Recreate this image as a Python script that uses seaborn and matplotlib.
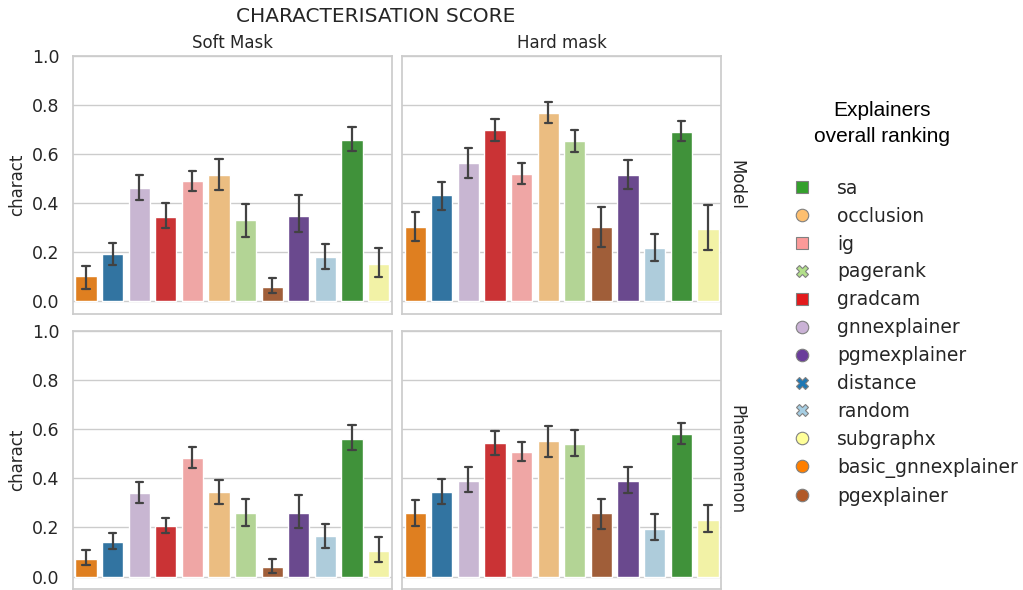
import numpy as np
import pandas as pd
import seaborn as sns
import matplotlib.pyplot as plt
from matplotlib.lines import Line2D

# explainers in plotting order (alphabetical)
explainers = ['basic_gnnexplainer', 'distance', 'gnnexplainer', 'gradcam', 'ig', 'occlusion',
              'pagerank', 'pgexplainer', 'pgmexplainer', 'random', 'sa', 'subgraphx']
# legend order = overall ranking
ranking = ['sa', 'occlusion', 'ig', 'pagerank', 'gradcam', 'gnnexplainer', 'pgmexplainer',
           'distance', 'random', 'subgraphx', 'basic_gnnexplainer', 'pgexplainer']
ranking_markers = ['s', 'o', 's', 'X', 's', 'o', 'o', 'X', 'X', 'o', 'o', 'o']
masks = ['Soft Mask', 'Hard mask']
focuses = ['Model', 'Phenomenon']

# bar value, lower and upper end of the error bar
soft_model = [0.102, 0.194, 0.463, 0.346, 0.490, 0.517, 0.330, 0.057, 0.349, 0.181, 0.657, 0.152]
soft_model_lo = [0.050, 0.147, 0.413, 0.300, 0.450, 0.454, 0.264, 0.033, 0.284, 0.132, 0.615, 0.100]
soft_model_hi = [0.143, 0.238, 0.517, 0.400, 0.530, 0.580, 0.395, 0.094, 0.435, 0.236, 0.710, 0.219]

hard_model = [0.305, 0.435, 0.564, 0.700, 0.519, 0.768, 0.653, 0.302, 0.514, 0.217, 0.690, 0.295]
hard_model_lo = [0.248, 0.373, 0.503, 0.653, 0.480, 0.729, 0.608, 0.221, 0.458, 0.164, 0.653, 0.209]
hard_model_hi = [0.366, 0.488, 0.626, 0.744, 0.566, 0.813, 0.698, 0.386, 0.575, 0.274, 0.734, 0.394]

soft_phen = [0.073, 0.141, 0.340, 0.205, 0.484, 0.343, 0.257, 0.038, 0.261, 0.165, 0.562, 0.103]
soft_phen_lo = [0.046, 0.113, 0.301, 0.177, 0.444, 0.297, 0.207, 0.015, 0.196, 0.118, 0.516, 0.060]
soft_phen_hi = [0.107, 0.176, 0.386, 0.239, 0.528, 0.393, 0.318, 0.072, 0.332, 0.216, 0.619, 0.161]

hard_phen = [0.257, 0.346, 0.390, 0.544, 0.507, 0.551, 0.541, 0.257, 0.390, 0.195, 0.580, 0.230]
hard_phen_lo = [0.207, 0.297, 0.344, 0.495, 0.471, 0.488, 0.493, 0.195, 0.341, 0.147, 0.540, 0.181]
hard_phen_hi = [0.314, 0.396, 0.445, 0.592, 0.548, 0.612, 0.596, 0.317, 0.446, 0.253, 0.626, 0.291]

panels = [
    ('Model', 'Soft Mask', soft_model, soft_model_lo, soft_model_hi),
    ('Model', 'Hard mask', hard_model, hard_model_lo, hard_model_hi),
    ('Phenomenon', 'Soft Mask', soft_phen, soft_phen_lo, soft_phen_hi),
    ('Phenomenon', 'Hard mask', hard_phen, hard_phen_lo, hard_phen_hi),
]

# long table: median of (lo, val, hi) is the bar, min/max is the error bar
rows = []
for focus, mask, vals, los, his in panels:
    for e, v, lo, hi in zip(explainers, vals, los, his):
        for x in (lo, v, hi):
            rows.append({'explainer': e, 'mask': mask, 'focus': focus, 'charact': x})
df = pd.DataFrame(rows)

paired = sns.color_palette('Paired')
colors = {'basic_gnnexplainer': paired[7], 'distance': paired[1], 'gnnexplainer': paired[8],
          'gradcam': paired[5], 'ig': paired[4], 'occlusion': paired[6], 'pagerank': paired[2],
          'pgexplainer': paired[11], 'pgmexplainer': paired[9], 'random': paired[0],
          'sa': paired[3], 'subgraphx': paired[10]}

sns.set_theme(style='whitegrid', rc={'ytick.labelsize': 12.5})

g = sns.catplot(data=df, x='explainer', y='charact', hue='explainer', row='focus', col='mask',
                kind='bar', order=explainers, hue_order=explainers, row_order=focuses,
                col_order=masks, palette=colors, estimator='median', errorbar=('pi', 100),
                capsize=0.27, err_kws={'linewidth': 1.6}, legend=False,
                margin_titles=True, facet_kws={'despine': False}, height=3, aspect=1.2)

fig = g.figure
fig.set_size_inches(10.23, 5.9)
g.set_titles(row_template='{row_name}', col_template='{col_name}')
g.set(ylim=(-0.05, 1.0), yticks=np.arange(0, 1.01, 0.2), xticklabels=[])
g.set_axis_labels('', 'charact')
fig.subplots_adjust(left=0.071, right=0.705, top=0.905, bottom=0.002, wspace=0.031, hspace=0.068)

fig.suptitle('CHARACTERISATION SCORE', x=0.367, y=0.972, va='center', fontsize=14.5)

# legend with the overall ranking
handles = [Line2D([0], [0], marker=m, linestyle='', markerfacecolor=colors[e],
                  markeredgecolor='0.5', markeredgewidth=0.8, markersize=9)
           for e, m in zip(ranking, ranking_markers)]
fig.text(0.862, 0.791, 'Explainers\noverall ranking', ha='center', va='center',
         fontsize=15, family='Liberation Sans', color='black', linespacing=1.45)
fig.legend(handles, ranking, loc='upper left', bbox_to_anchor=(0.775, 0.697),
           frameon=False, fontsize=13.5, handlelength=1.0, handletextpad=1.35,
           labelspacing=0.475, borderpad=0, borderaxespad=0)

fig.savefig('out.png', dpi=100)
